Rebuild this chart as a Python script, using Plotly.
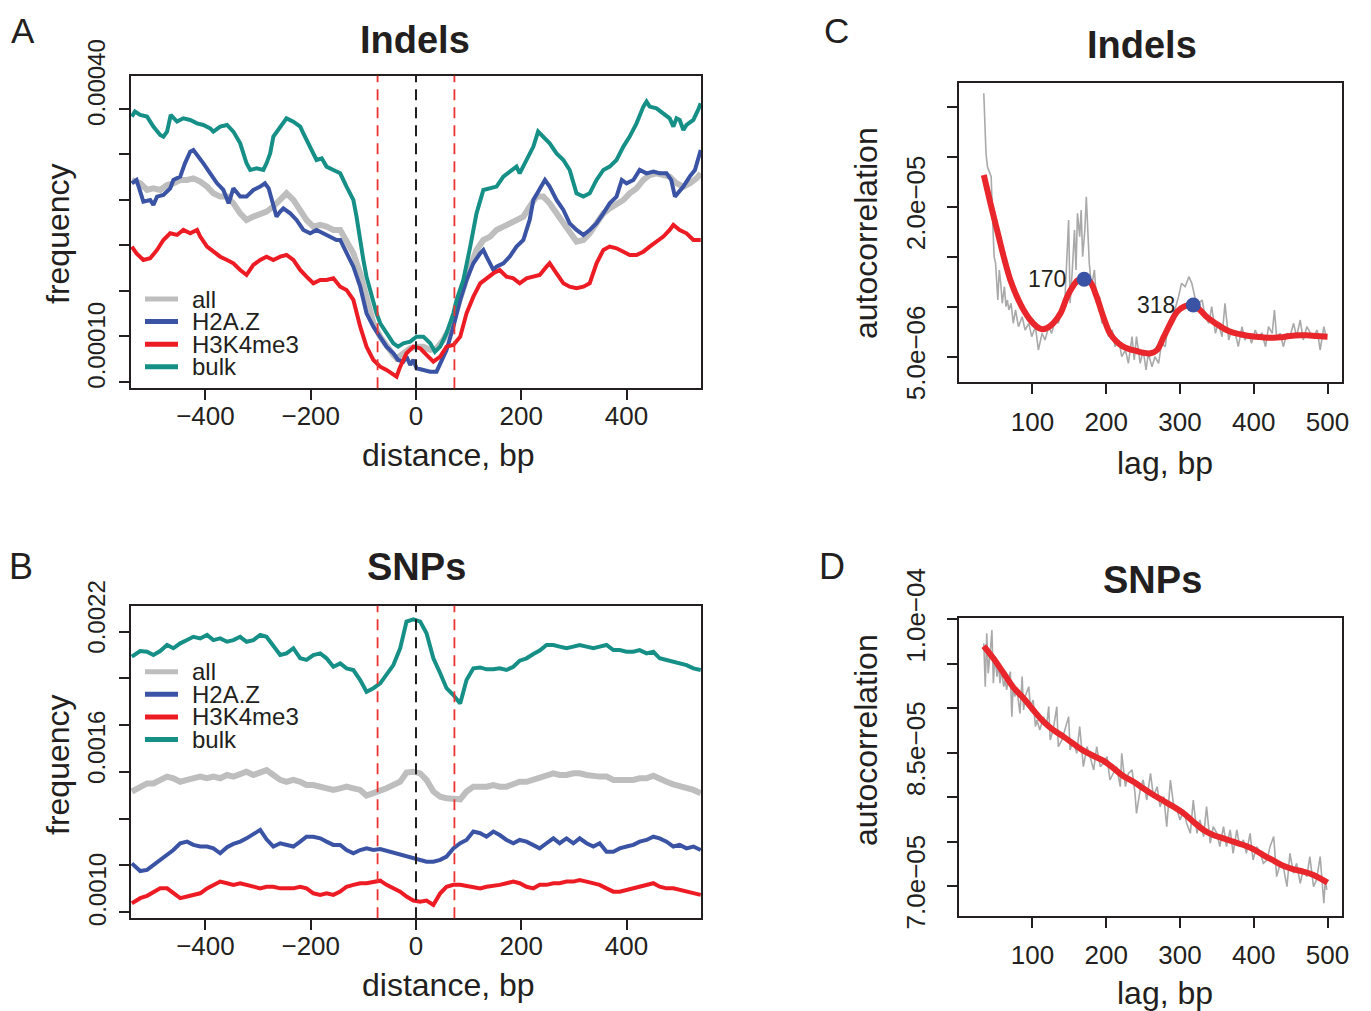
import plotly.graph_objects as go

W, H = 1371, 1011
PAGE_OFFSET = 8  # default page margin around the figure
FONT = "Liberation Sans, Arial, Helvetica, sans-serif"
INK = "#231f20"

C_ALL = "#bebebe"
C_H2AZ = "#3a53a4"
C_H3K = "#ed1c24"
C_BULK = "#168f87"
C_ACF = "#a9a9a9"
C_FIT = "#e8262b"

series_names = ["all", "H2A.Z", "H3K4me3", "bulk"]
series_colors = [C_ALL, C_H2AZ, C_H3K, C_BULK]
series_widths = [6, 4, 4, 4]

# ---------------- Panel A : Indels, frequency (units of 1e-5) ----------------
a_all_x = [-540, -524, -511, -499, -486, -473, -461, -448, -435, -423, -410, -397, -385, -372, -359, -347,
           -334, -322, -309, -296, -284, -271, -258, -246, -233, -220, -208, -195, -182, -170, -157,
           -144, -132, -119, -106, -94, -81, -68, -56, -43, -37, -24, -11, 1, 14, 27, 39, 52, 65, 77, 90,
           103, 115, 128, 141, 153, 166, 178, 191, 204, 216, 229, 242, 254, 267, 280, 292, 305, 318, 330,
           343, 356, 368, 381, 394, 406, 419, 432, 444, 457, 470, 482, 495, 508, 520, 533, 541]
a_all_y = [32.19, 31.82, 31.09, 31.27, 31.09, 31.64, 31.82, 32.19, 32.19, 32.37, 32.01, 31.46, 30.72, 30.36,
           30.36, 29.62, 28.52, 27.79, 28.16, 28.52, 28.71, 29.26, 29.99, 30.72, 29.99, 28.89, 27.79, 27.06,
           27.24, 27.06, 26.69,
           26.69, 25.59, 24.12, 21.92, 18.99, 16.42, 14.95, 13.85, 12.94, 12.57, 13.12, 13.67, 13.85, 13.85,
           13.49, 13.67, 14.59, 16.05, 17.89, 20.45, 22.65, 24.49, 25.59, 25.96, 26.69, 27.06, 27.42, 27.79,
           28.16, 29.26, 30.36, 30.36, 29.62, 28.52, 27.42, 26.32, 25.41, 25.59, 26.32, 27.42, 28.52, 29.07,
           29.62, 29.99, 30.72, 31.27, 32.19, 32.74, 32.92, 32.74, 32.56, 31.82, 31.46, 31.82, 32.37, 32.92]

a_h2az_x = [-540, -531, -518, -505, -499, -492, -480, -467, -461, -448, -439, -429, -423, -413, -404, -391,
            -378, -366, -356, -347, -334, -322, -309, -296, -287, -280, -271, -265, -258, -252, -239, -227,
            -214, -201, -189, -176, -163, -151,
            -144, -132, -119, -106, -94, -81, -68, -56, -43, -34, -24, -18, -11, -5, 1, 14, 27, 39, 46, 58,
            71, 84, 96, 109, 122, 128, 134, 147, 153, 166, 178, 191, 204, 216, 223, 235, 245, 254, 267, 280,
            292, 305, 318, 330, 343, 356, 368, 381, 391, 400, 413, 425, 438, 451, 463, 476, 485, 492, 498,
            508, 520, 530, 541]
a_h2az_y = [31.82, 32.19, 29.81, 29.99, 29.44, 30.36, 30.54, 31.27, 32.19, 32.56, 34.02, 35.31, 35.49, 34.76,
            34.02, 32.92, 31.82, 31.09, 29.62, 31.27, 30.36, 30.36, 31.09, 31.46, 31.82, 31.27, 29.62, 28.16,
            28.71, 29.07, 28.52, 27.79, 26.69, 26.32, 26.69, 26.32, 25.96, 25.59,
            25.59, 24.12, 22.65, 20.45, 17.52, 16.05, 14.95, 13.85, 13.12, 12.39, 12.20, 12.75, 11.84, 12.39,
            11.47, 11.29, 11.10, 11.10, 12.02, 13.49, 16.05, 18.99, 21.19, 23.02, 24.12, 24.49, 23.75, 22.29,
            22.65, 23.02, 23.75, 24.86, 25.59, 27.79, 29.99, 31.09, 32.19, 31.46, 29.99, 28.89, 27.42, 26.69,
            26.14, 26.69, 27.42, 28.52, 29.62, 30.36, 32.19, 31.82, 32.19, 33.29, 32.92, 33.11, 32.92, 32.92,
            32.19, 30.36, 30.72, 31.46, 32.56, 33.29, 35.49]

a_h3k_x = [-540, -531, -518, -505, -492, -480, -467, -454, -442, -429, -416, -410, -397, -385, -372, -359,
           -347, -334, -322, -309, -296, -284, -271, -258, -246, -233, -220, -208, -195, -182, -170, -157,
           -144, -132, -119, -106, -94, -81, -68, -56, -43, -37, -30, -18, -5, 8, 20, 33, 46, 58, 71, 84, 96,
           109, 122, 134, 147, 159, 172, 185, 197, 210, 223, 235, 248, 254, 267, 280, 292, 305, 318, 330, 343,
           356, 368, 381, 394, 406, 419, 432, 444, 457, 470, 482, 489, 501, 514, 527, 541]
a_h3k_y = [24.86, 24.12, 23.39, 23.57, 24.49, 25.59, 26.32, 26.14, 26.69, 26.32, 26.69, 25.96, 24.86, 24.30,
           23.75, 23.39, 23.02, 22.29, 21.74, 22.84, 23.39, 23.75, 23.39, 23.75, 23.94, 23.39, 22.29, 21.55,
           20.82, 21.19, 21.19, 21.37,
           20.45, 20.09, 18.99, 16.05, 13.85, 12.39, 11.65, 11.29, 10.74, 10.55, 11.65, 13.12, 13.85, 13.67,
           12.94, 12.20, 12.75, 13.85, 14.04, 14.95, 17.52, 19.35, 20.82, 21.37, 21.92, 22.29, 21.55, 21.37,
           20.82, 21.37, 21.55, 21.74, 22.65, 23.02, 21.92, 20.82, 20.45, 20.27, 20.45, 20.82, 23.02, 24.49,
           24.86, 24.67, 24.30, 23.94, 23.94, 24.30, 24.86, 25.41, 25.96, 26.69, 27.24, 26.69, 26.32, 25.59,
           25.59]

a_bulk_x = [-540, -534, -524, -511, -499, -486, -480, -473, -466, -454, -442, -429, -416, -404, -391, -385,
            -372, -359, -347, -334, -322, -315, -303, -290, -284, -277, -271, -258, -246, -233, -220, -214,
            -201, -189, -179, -170, -157,
            -144, -132, -119, -113, -106, -100, -94, -87, -81, -75, -68, -56, -43, -34, -24, -11, 1, 14, 27,
            36, 46, 58, 71, 77, 90, 103, 115, 128, 141, 153, 166, 178, 191, 197, 210, 223, 232, 242, 254, 267,
            280, 292, 305, 318, 330, 343, 356, 368, 381, 394, 406, 419, 432, 438, 444, 457, 470, 482, 489, 495,
            501, 508, 514, 527, 536, 541]
a_bulk_y = [39.16, 39.71, 39.34, 39.16, 38.06, 37.14, 36.96, 37.51, 39.34, 38.61, 38.97, 38.79, 38.42, 38.24,
            37.87, 37.51, 38.06, 38.24, 37.51, 36.22, 34.02, 33.29, 33.47, 33.29, 34.02, 35.12, 36.96, 38.06,
            38.97, 38.61, 38.06, 37.32, 35.86, 34.39, 34.57, 33.66, 33.29,
            32.92, 31.46, 29.99, 28.16, 25.22, 23.39, 21.55, 20.09, 18.62, 17.52, 16.42, 15.32, 14.22, 13.85,
            14.22, 14.40, 14.95, 14.95, 14.22, 13.30, 13.85, 15.32, 17.52, 18.99, 21.19, 24.86, 28.52, 31.09,
            31.27, 31.46, 32.56, 33.11, 33.66, 32.92, 34.39, 35.86, 37.51, 36.96, 36.22, 35.12, 34.39, 33.29,
            30.72, 30.36, 30.72, 32.19, 33.29, 33.66, 34.39, 35.86, 36.96, 38.42, 40.26, 40.81, 40.26, 40.07,
            39.52, 38.97, 38.06, 38.97, 38.79, 37.69, 38.24, 38.79, 39.89, 40.62]

# ---------------- Panel B : SNPs, frequency (units of 1e-4) ----------------
b_x = [-540, -524, -511, -499, -486, -473, -461, -448, -435, -423, -410, -397, -385, -372, -359, -347, -334,
       -322, -309, -296, -284, -271, -258, -246, -233, -220, -208, -195, -182, -170, -157,
       -144, -132, -119, -106, -94, -81, -68, -56, -43, -30, -18, -5, 8, 20, 33, 46, 58, 71, 84, 96, 109, 122,
       134, 147, 159, 172, 185, 197, 210, 223, 235, 248, 261, 273, 286, 299, 311, 324, 337, 349, 362, 375, 387,
       400, 413, 425, 438, 451, 463, 476, 489, 501, 514, 527, 541]
b_all = [15.16, 15.37, 15.51, 15.51, 15.66, 15.80, 15.73, 15.58, 15.66, 15.73, 15.80, 15.73, 15.80, 15.73,
         15.87, 15.80, 15.94, 16.01, 15.87, 16.01, 16.08, 15.87, 15.66, 15.58, 15.66, 15.58, 15.44, 15.44,
         15.37, 15.30, 15.23,
         15.30, 15.37, 15.30, 15.23, 14.99, 15.13, 15.20, 15.30, 15.44, 15.58, 15.97, 16.01, 15.94, 15.66,
         15.16, 14.94, 14.87, 14.87, 14.83, 15.16, 15.37, 15.37, 15.37, 15.44, 15.37, 15.37, 15.51, 15.58,
         15.58, 15.66, 15.73, 15.87, 15.94, 15.87, 15.87, 15.94, 15.94, 15.87, 15.80, 15.80, 15.80, 15.66,
         15.66, 15.66, 15.66, 15.73, 15.73, 15.84, 15.70, 15.58, 15.47, 15.40, 15.33, 15.23, 15.09]
b_h2az = [12.09, 11.76, 11.81, 12.02, 12.24, 12.45, 12.66, 12.95, 13.02, 12.88, 12.81, 12.81, 12.73, 12.52,
          12.78, 12.92, 13.02, 13.16, 13.35, 13.52, 13.12, 12.81, 12.95, 12.88, 12.81, 13.02, 13.23, 13.23,
          13.16, 13.02, 12.88,
          12.88, 12.66, 12.52, 12.66, 12.73, 12.66, 12.70, 12.63, 12.56, 12.49, 12.41, 12.31, 12.24, 12.16,
          12.16, 12.24, 12.38, 12.73, 12.95, 13.09, 13.45, 13.38, 13.23, 13.45, 13.30, 13.09, 12.95, 13.09,
          13.02, 12.88, 12.73, 12.95, 13.16, 12.95, 13.16, 12.95, 13.16, 12.95, 12.81, 12.95, 12.59, 12.59,
          12.73, 12.81, 12.88, 13.02, 13.09, 13.23, 13.16, 13.02, 12.81, 12.88, 12.73, 12.81, 12.66]
b_h3k = [10.38, 10.60, 10.70, 10.84, 11.02, 11.02, 10.81, 10.60, 10.67, 10.74, 10.81, 11.02, 11.17, 11.31,
         11.24, 11.17, 11.24, 11.17, 11.09, 11.02, 11.09, 11.09, 11.02, 11.02, 11.02, 11.09, 11.02, 10.81,
         10.74, 10.81, 10.74,
         10.88, 11.09, 11.17, 11.24, 11.24, 11.31, 11.35, 11.17, 11.02, 10.88, 10.67, 10.50, 10.45, 10.50,
         10.31, 10.81, 11.09, 11.17, 11.17, 11.12, 11.09, 11.02, 11.09, 11.12, 11.17, 11.24, 11.31, 11.24,
         11.09, 11.02, 11.17, 11.17, 11.24, 11.24, 11.31, 11.31, 11.38, 11.31, 11.24, 11.17, 11.02, 10.88,
         10.88, 10.95, 11.02, 11.09, 11.17, 11.24, 11.09, 11.02, 11.02, 10.95, 10.88, 10.81, 10.74]
b_bulk = [20.93, 21.17, 21.14, 21.00, 21.17, 21.43, 21.29, 21.50, 21.64, 21.78, 21.71, 21.86, 21.64, 21.71,
          21.57, 21.64, 21.78, 21.57, 21.64, 21.86, 21.78, 21.36, 21.00, 21.07, 21.29, 20.86, 20.79, 21.00,
          21.07, 20.86, 20.50,
          20.64, 20.43, 20.36, 19.93, 19.43, 19.58, 19.79, 20.15, 20.57, 21.29, 22.43, 22.53, 22.43, 21.93,
          20.86, 20.22, 19.58, 19.29, 18.93, 19.93, 20.43, 20.47, 20.39, 20.39, 20.43, 20.36, 20.50, 20.76,
          20.86, 21.04, 21.19, 21.43, 21.43, 21.36, 21.29, 21.36, 21.43, 21.36, 21.29, 21.36, 21.43, 21.21,
          21.21, 21.14, 21.14, 21.21, 21.07, 21.14, 20.86, 20.79, 20.72, 20.64, 20.57, 20.43, 20.36]

nucleosome_edges_bp = [-73, 73]
center_bp = [0]

# ---------------- Panel C : Indels autocorrelation (units of 1e-6) ----------------
c_lag = [34, 37, 39, 41, 44, 46, 48, 50, 53, 55, 57, 59, 62, 64, 66, 68, 71, 74, 77, 81, 86, 90, 95, 99, 104,
         108, 113, 117, 122, 126, 131, 135, 140, 144, 149, 151, 154, 157, 159, 161, 164, 166, 168, 171, 173,
         175, 177, 180, 184, 187, 191, 194, 199, 203, 208, 212, 217, 221, 226, 230, 235, 238, 241, 246, 250,
         254, 257, 262, 266, 271, 275, 280, 284, 289, 293, 298, 302, 307, 312, 316, 321, 325, 330, 334, 339,
         343, 348, 352, 357, 361, 366, 370, 375, 379, 384, 388, 393, 397, 402, 406, 411, 416, 420, 425, 428,
         431, 436, 440, 445, 449, 454, 458, 463, 467, 472, 477, 481, 486, 490, 495, 498]
c_acf = [31.34, 25.34, 24.0, 23.67, 23.0, 18.67, 15.0, 14.34, 10.67, 13.67, 12.34, 10.34, 12.0, 10.0, 10.67,
         9.67, 10.34, 8.34, 9.67, 8.0, 9.0, 7.67, 8.34, 7.0, 8.0, 5.67, 7.34, 6.67, 8.0, 7.34, 8.67, 8.34, 9.67,
         10.67, 18.67, 10.34, 13.67, 17.67, 13.67, 19.34, 17.0, 19.67, 15.0, 17.67, 21.0, 17.0, 14.34, 12.0,
         13.67, 10.34, 11.0, 8.34, 8.67, 7.0, 7.67, 6.0, 6.67, 5.0, 5.67, 4.34, 7.0, 4.67, 7.0, 4.34, 5.67,
         3.67, 5.34, 4.0, 5.0, 4.34, 6.34, 6.0, 8.34, 9.0, 9.67, 11.0, 12.34, 12.0, 13.0, 12.34, 10.67, 10.34,
         10.67, 9.0, 8.34, 10.0, 7.34, 8.34, 7.0, 10.34, 6.67, 7.67, 7.34, 6.0, 8.0, 6.67, 7.34, 6.34, 7.67,
         7.0, 7.34, 6.0, 8.0, 7.34, 9.67, 7.0, 7.34, 6.0, 7.34, 7.0, 8.34, 7.0, 8.67, 6.67, 8.0, 7.34, 7.0,
         7.67, 5.67, 8.0, 7.0]
c_fit_lag = [34, 43, 52, 61, 70, 79, 88, 97, 106, 113, 119, 128, 138, 147, 156, 162, 170, 178, 187, 196, 205,
             214, 223, 232, 241, 250, 260, 269, 278, 287, 296, 305, 318, 327, 336, 345, 354, 363, 372, 382,
             391, 404, 418, 427, 436, 449, 463, 472, 485, 500]
c_fit = [23.17, 20.34, 17.67, 15.0, 12.67, 11.0, 9.67, 8.67, 8.0, 7.74, 7.84, 8.34, 9.34, 11.0, 12.17, 12.67,
         12.74, 12.5, 11.0, 9.0, 7.34, 6.5, 6.0, 5.74, 5.57, 5.4, 5.34, 5.67, 7.0, 8.34, 9.5, 10.0, 10.17, 9.67,
         9.0, 8.5, 8.07, 7.67, 7.4, 7.24, 7.1, 7.0, 6.9, 6.9, 6.94, 7.07, 7.14, 7.14, 7.07, 7.0]
c_peak_lag = [170, 318]
c_peak_val = [12.74, 10.17]
c_peak_text = ["170", "318"]

# ---------------- Panel D : SNPs autocorrelation (units of 1e-5) ----------------
d_lag = [34, 36, 38, 40, 43, 45, 47, 49, 52, 54, 56, 58, 61, 63, 65, 67, 70, 72, 74, 76, 79, 83, 86, 88, 90,
         95, 97, 101, 104, 106, 110, 115, 119, 122, 124, 128, 133, 135, 140, 144, 149, 151, 155, 160, 164,
         169, 174, 178, 183, 187, 192, 196, 201, 205, 210, 214, 219, 221, 226, 230, 235, 239, 241, 246, 250,
         255, 260, 264, 269, 273, 278, 282, 287, 291, 296, 300, 305, 309, 314, 318, 323, 327, 332, 336, 341,
         345, 350, 354, 359, 363, 368, 372, 377, 381, 386, 390, 395, 399, 404, 409, 413, 418, 422, 427, 431,
         436, 440, 445, 449, 454, 458, 463, 467, 472, 476, 481, 485, 490, 495, 497, 499]
d_acf = [9.730, 9.242, 9.842, 9.392, 9.655, 9.880, 9.280, 9.580, 9.355, 9.505, 9.280, 9.430, 9.242, 9.317,
         9.205, 9.317, 9.411, 8.905, 9.280, 9.130, 9.205, 8.942, 9.355, 8.980, 9.130, 9.242, 9.017, 9.092,
         8.792, 8.867, 8.755, 8.905, 8.792, 9.017, 8.642, 8.755, 9.017, 8.567, 8.642, 8.755, 8.905, 8.530,
         8.642, 8.492, 8.792, 8.342, 8.567, 8.455, 8.305, 8.567, 8.342, 8.380, 8.455, 8.192, 8.267, 8.342,
         8.117, 8.492, 8.117, 8.267, 8.305, 8.042, 7.817, 8.080, 8.192, 7.967, 8.267, 8.005, 8.117, 7.892,
         8.005, 7.667, 8.192, 7.930, 7.855, 7.742, 7.855, 7.705, 7.592, 7.967, 7.592, 7.742, 7.555, 7.892,
         7.480, 7.667, 7.592, 7.442, 7.667, 7.442, 7.630, 7.367, 7.630, 7.442, 7.517, 7.367, 7.592, 7.292,
         7.442, 7.367, 7.255, 7.292, 7.442, 7.555, 7.105, 7.255, 7.217, 6.992, 7.367, 7.142, 7.255, 7.030,
         7.180, 7.105, 7.330, 6.992, 7.067, 7.330, 6.805, 7.067, 6.955]
d_fit_lag = [34, 47, 61, 74, 88, 101, 115, 128, 142, 156, 169, 183, 196, 210, 223, 237, 250, 264, 278, 291,
             305, 318, 332, 345, 359, 372, 386, 400, 413, 427, 440, 454, 467, 481, 500]
d_fit = [9.699, 9.561, 9.392, 9.235, 9.111, 8.980, 8.848, 8.755, 8.680, 8.597, 8.522, 8.462, 8.410, 8.323,
         8.237, 8.173, 8.098, 8.023, 7.956, 7.892, 7.817, 7.723, 7.630, 7.573, 7.536, 7.498, 7.461, 7.412,
         7.348, 7.285, 7.228, 7.187, 7.161, 7.123, 7.037]

# tick values / labels
ab_xticks = [-400, -200, 0, 200, 400]
ab_xtext = ["\u2212400", "\u2212200", "0", "200", "400"]
a_yticks = [1e-4, 1.5e-4, 2e-4, 2.5e-4, 3e-4, 3.5e-4, 4e-4]
a_ylabels = [(1e-4, "0.00010", 36), (4e-4, "0.00040", 26)]
b_yticks = [1.0e-3, 1.2e-3, 1.4e-3, 1.6e-3, 1.8e-3, 2.0e-3, 2.2e-3]
b_ylabels = [(1.0e-3, "0.0010", 22), (1.6e-3, "0.0016", 24), (2.2e-3, "0.0022", 14)]
cd_xticks = [100, 200, 300, 400, 500]
c_yticks = [5e-6, 1e-5, 1.5e-5, 2e-5, 2.5e-5, 3e-5]
c_ytext = ["5.0e\u221206", "", "", "2.0e\u221205", "", ""]
d_yticks = [7e-5, 7.5e-5, 8e-5, 8.5e-5, 9e-5, 9.5e-5, 1e-4]
d_ytext = ["7.0e\u221205", "", "", "8.5e\u221205", "", "", "1.0e\u221204"]


def X(p):
    return (p - PAGE_OFFSET) / W


def Y(p):
    return 1 - (p - PAGE_OFFSET) / H


fig = go.Figure()

a_sets = [(a_all_x, a_all_y), (a_h2az_x, a_h2az_y), (a_h3k_x, a_h3k_y), (a_bulk_x, a_bulk_y)]
for (xs, ys), col, wd in zip(a_sets, series_colors, series_widths):
    fig.add_trace(go.Scatter(x=xs, y=[v * 1e-5 for v in ys], mode="lines",
                             line=dict(color=col, width=wd), xaxis="x", yaxis="y", hoverinfo="skip"))
for ys, col, wd in zip([b_all, b_h2az, b_h3k, b_bulk], series_colors, series_widths):
    fig.add_trace(go.Scatter(x=b_x, y=[v * 1e-4 for v in ys], mode="lines",
                             line=dict(color=col, width=wd), xaxis="x2", yaxis="y2", hoverinfo="skip"))
fig.add_trace(go.Scatter(x=c_lag, y=[v * 1e-6 for v in c_acf], mode="lines",
                         line=dict(color=C_ACF, width=1.6), xaxis="x3", yaxis="y3"))
fig.add_trace(go.Scatter(x=c_fit_lag, y=[v * 1e-6 for v in c_fit], mode="lines", line_shape="spline",
                         line=dict(color=C_FIT, width=6), xaxis="x3", yaxis="y3"))
fig.add_trace(go.Scatter(x=c_peak_lag, y=[v * 1e-6 for v in c_peak_val], mode="markers",
                         marker=dict(color=C_H2AZ, size=15), xaxis="x3", yaxis="y3"))
fig.add_trace(go.Scatter(x=d_lag, y=[v * 1e-5 for v in d_acf], mode="lines",
                         line=dict(color=C_ACF, width=1.6), xaxis="x4", yaxis="y4"))
fig.add_trace(go.Scatter(x=d_fit_lag, y=[v * 1e-5 for v in d_fit], mode="lines", line_shape="spline",
                         line=dict(color=C_FIT, width=6), xaxis="x4", yaxis="y4"))


def axis(**kw):
    d = dict(showline=True, linecolor=INK, linewidth=2, mirror=True, ticks="outside", ticklen=10,
             tickwidth=2, tickcolor=INK, showgrid=False, zeroline=False, automargin=False,
             tickfont=dict(family=FONT, size=26, color=INK))
    d.update(kw)
    return d


fig.update_layout(
    width=W, height=H, margin=dict(l=0, r=0, t=0, b=0, pad=0, autoexpand=False),
    paper_bgcolor="white", plot_bgcolor="white", showlegend=False,
    xaxis=axis(domain=[X(131), X(701)], range=[-541.5, 541.5], tickvals=ab_xticks, ticktext=ab_xtext,
               ticklabelstandoff=-7, anchor="y"),
    yaxis=axis(domain=[Y(388.3), Y(75.7)], range=[9.27e-5, 4.366e-4], tickvals=a_yticks,
               showticklabels=False, anchor="x"),
    xaxis2=axis(domain=[X(131), X(701)], range=[-541.5, 541.5], tickvals=ab_xticks, ticktext=ab_xtext,
                ticklabelstandoff=-7, anchor="y2"),
    yaxis2=axis(domain=[Y(918.3), Y(605.7)], range=[9.74e-4, 2.311e-3], tickvals=b_yticks,
                showticklabels=False, anchor="x2"),
    xaxis3=axis(domain=[X(959.3), X(1341.7)], range=[0.8, 519.2], tickvals=cd_xticks,
                ticklabelstandoff=5, anchor="y3"),
    yaxis3=axis(domain=[Y(382.3), Y(83.3)], range=[2.44e-6, 3.234e-5], tickvals=c_yticks, ticktext=c_ytext,
                tickangle=-90, ticklabelstandoff=12, anchor="x3"),
    xaxis4=axis(domain=[X(959.3), X(1341.7)], range=[0.8, 519.2], tickvals=cd_xticks,
                ticklabelstandoff=5, anchor="y4"),
    yaxis4=axis(domain=[Y(916), Y(618.3)], range=[6.662e-5, 1.0011e-4], tickvals=d_yticks, ticktext=d_ytext,
                tickangle=-90, ticklabelstandoff=12, anchor="x4"),
)

shapes = []
for xr, yr in [("x", "y"), ("x2", "y2")]:
    for v in nucleosome_edges_bp:
        shapes.append(dict(type="line", xref=xr, yref=yr + " domain", x0=v, x1=v, y0=0, y1=1,
                           line=dict(color="#ee3333", width=1.8, dash="11px,7px")))
    for v in center_bp:
        shapes.append(dict(type="line", xref=xr, yref=yr + " domain", x0=v, x1=v, y0=0, y1=1,
                           line=dict(color=INK, width=2, dash="11px,7px")))

annotations = []


def txt(text, px, py, size, angle=0, bold=False, xanchor="center", yanchor="middle"):
    annotations.append(dict(text=("<b>%s</b>" % text) if bold else text, x=X(px), y=Y(py),
                            xref="paper", yref="paper", showarrow=False, textangle=angle,
                            xanchor=xanchor, yanchor=yanchor,
                            font=dict(family=FONT, size=size, color=INK)))


# legends (panels A and B)
for top in [299, 671.7]:
    for i, (name, col) in enumerate(zip(series_names, series_colors)):
        yy = top + i * 22.6
        shapes.append(dict(type="line", xref="paper", yref="paper", x0=X(145), x1=X(178), y0=Y(yy), y1=Y(yy),
                           line=dict(color=col, width=5)))
        txt(name, 190, yy, 24, xanchor="left")

# frequency tick labels (panels A and B)
for val, lab, sh in a_ylabels:
    annotations.append(dict(text=lab, x=X(97), xref="paper", y=val, yref="y", yshift=sh, showarrow=False,
                            textangle=-90, xanchor="center", yanchor="middle",
                            font=dict(family=FONT, size=24, color=INK)))
for val, lab, sh in b_ylabels:
    annotations.append(dict(text=lab, x=X(97), xref="paper", y=val, yref="y2", yshift=sh, showarrow=False,
                            textangle=-90, xanchor="center", yanchor="middle",
                            font=dict(family=FONT, size=24, color=INK)))

# peak labels in panel C
for lag, val, lab in zip(c_peak_lag, c_peak_val, c_peak_text):
    annotations.append(dict(text=lab, x=lag, y=val * 1e-6, xref="x3", yref="y3", xanchor="right",
                            yanchor="middle", xshift=-16, showarrow=False,
                            font=dict(family=FONT, size=23, color=INK)))

txt("A", 23, 8.5, 35, yanchor="top")
txt("B", 21, 566, 36)
txt("C", 836, 8.5, 35, yanchor="top")
txt("D", 832, 566, 36)
txt("Indels", 415, 40, 38, bold=True)
txt("SNPs", 416, 567, 38, bold=True)
txt("Indels", 1142, 45, 38, bold=True)
txt("SNPs", 1152, 580, 38, bold=True)

txt("frequency", 58, 234, 32, angle=-90)
txt("frequency", 58, 765, 32, angle=-90)
txt("distance, bp", 448, 455, 32)
txt("distance, bp", 448, 985, 32)
txt("autocorrelation", 866, 233, 32, angle=-90)
txt("autocorrelation", 866, 740, 32, angle=-90)
txt("lag, bp", 1165, 463, 32)
txt("lag, bp", 1165, 993, 32)

fig.update_layout(shapes=shapes, annotations=annotations)
fig.write_html("out.html")
